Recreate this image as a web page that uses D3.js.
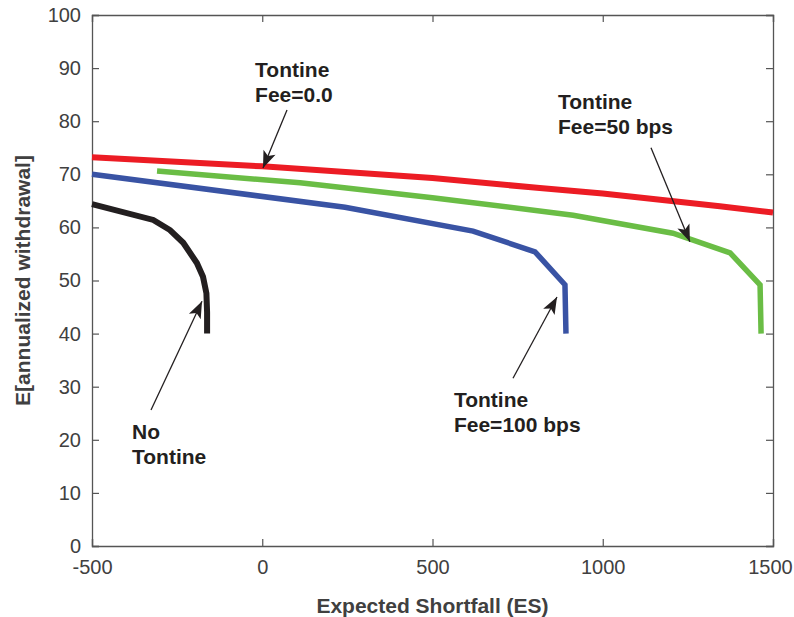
<!DOCTYPE html>
<html>
<head>
<meta charset="utf-8">
<script src="https://cdn.jsdelivr.net/npm/d3@7"></script>
<style>
  body { margin: 0; background: #fff; }
  svg { display: block; font-family: "Liberation Sans", Arial, Helvetica, sans-serif; }
  .tick text { fill: #404040; font-size: 20px; }
  .axis path, .axis line { stroke: #555; }
  .label { fill: #404040; font-size: 21px; font-weight: bold; }
  .note { fill: #231f20; font-size: 21px; font-weight: bold; }
</style>
</head>
<body>
<svg width="794" height="617"></svg>
<script>
// series: [ES, E[withdrawal]]
var redFee0 = [[-500, 73.2], [0, 71.5], [500, 69.3], [815, 67.4], [1000, 66.4], [1344, 64.0], [1500, 62.8]];
var greenFee50 = [[-309, 70.6], [111, 68.4], [500, 65.6], [913, 62.3], [1206, 58.9], [1374, 55.2], [1462, 49.2], [1465, 40]];
var blueFee100 = [[-500, 70.0], [243, 63.8], [619, 59.3], [801, 55.4], [889, 49.2], [892, 40]];
var blackNoTontine = [[-500, 64.4], [-320, 61.4], [-271, 59.5], [-232, 57.1], [-192, 53.3], [-174, 50.7], [-164, 47.6], [-162, 44], [-162, 40]];

var xTicks = [-500, 0, 500, 1000, 1500];
var yTicks = [0, 10, 20, 30, 40, 50, 60, 70, 80, 90, 100];

// annotations: text anchor and arrow from -> to, in data units
var notes = [
  {lines: ["Tontine", "Fee=0.0"], at: [-21, 88.3], from: [72.7, 82.1], to: [2.2, 71.2]},
  {lines: ["Tontine", "Fee=50 bps"], at: [868.6, 82.3], from: [1141.7, 75.0], to: [1256, 57.3]},
  {lines: ["Tontine", "Fee=100 bps"], at: [563, 26.2], from: [736.4, 31.6], to: [865.6, 46.9]},
  {lines: ["No", "Tontine"], at: [-382.5, 20.15], from: [-326.7, 25.6], to: [-176.9, 46.1]}
];

var svg = d3.select("svg"),
    margin = {top: 15, right: 21, bottom: 71, left: 92},
    width = +svg.attr("width") - margin.left - margin.right,
    height = +svg.attr("height") - margin.top - margin.bottom,
    g = svg.append("g").attr("transform", "translate(" + margin.left + "," + margin.top + ")");

var x = d3.scaleLinear().domain([-500, 1500]).range([0, width]);
var y = d3.scaleLinear().domain([0, 100]).range([height, 0]);

var line = d3.line()
    .x(function(d) { return x(d[0]); })
    .y(function(d) { return y(d[1]); });

// plain hyphen for negatives, like the original
var fmt = function(d) { return String(d); };

// box with inward ticks on every side
var xAxis = g.append("g")
    .attr("class", "axis axis--x")
    .attr("transform", "translate(0," + height + ")")
    .call(d3.axisBottom(x).tickValues(xTicks).tickSize(-7).tickPadding(14).tickFormat(fmt));

// keep the last label inside the window
xAxis.selectAll(".tick text").filter(function(d) { return d === 1500; }).attr("dx", -3);

g.append("g")
    .attr("class", "axis axis--x2")
    .call(d3.axisTop(x).tickValues(xTicks).tickSize(-7).tickFormat(""));

g.append("g")
    .attr("class", "axis axis--y")
    .call(d3.axisLeft(y).tickValues(yTicks).tickSize(-7).tickPadding(11).tickFormat(fmt));

g.append("g")
    .attr("class", "axis axis--y2")
    .attr("transform", "translate(" + width + ",0)")
    .call(d3.axisRight(y).tickValues(yTicks).tickSize(-7).tickFormat(""));

g.selectAll(".axis path").attr("stroke-width", 1.3);
g.selectAll(".axis line").attr("stroke-width", 1.2);

// lines
var series = [
  {data: redFee0, color: "#ec1c24", w: 6},
  {data: greenFee50, color: "#6abd45", w: 5.5},
  {data: blueFee100, color: "#3953a4", w: 5.5},
  {data: blackNoTontine, color: "#231f20", w: 6}
];

g.selectAll(".series")
    .data(series)
  .enter().append("path")
    .attr("class", "series")
    .attr("fill", "none")
    .attr("stroke", function(d) { return d.color; })
    .attr("stroke-width", function(d) { return d.w; })
    .attr("stroke-linejoin", "miter")
    .attr("d", function(d) { return line(d.data); });

// annotations
notes.forEach(function(n) {
  var x1 = x(n.from[0]), y1 = y(n.from[1]),
      x2 = x(n.to[0]), y2 = y(n.to[1]),
      ang = Math.atan2(y2 - y1, x2 - x1) * 180 / Math.PI;

  g.append("line")
      .attr("x1", x1).attr("y1", y1)
      .attr("x2", x2).attr("y2", y2)
      .attr("stroke", "#231f20")
      .attr("stroke-width", 1.3);

  g.append("path")
      .attr("d", "M0,0L-17,-6.5L-13,0L-17,6.5Z")
      .attr("fill", "#231f20")
      .attr("transform", "translate(" + x2 + "," + y2 + ") rotate(" + ang + ")");

  var t = g.append("text")
      .attr("class", "note")
      .attr("x", x(n.at[0]))
      .attr("y", y(n.at[1]));
  t.selectAll("tspan")
      .data(n.lines)
    .enter().append("tspan")
      .attr("x", x(n.at[0]))
      .attr("dy", function(d, i) { return i ? 25 : 0; })
      .text(function(d) { return d; });
});

// axis labels
svg.append("text")
    .attr("class", "label")
    .attr("text-anchor", "middle")
    .attr("x", margin.left + width / 2)
    .attr("y", 613)
    .text("Expected Shortfall (ES)");

svg.append("text")
    .attr("class", "label")
    .attr("text-anchor", "middle")
    .attr("transform", "translate(30," + (margin.top + height / 2) + ") rotate(-90)")
    .text("E[annualized withdrawal]");
</script>
</body>
</html>
